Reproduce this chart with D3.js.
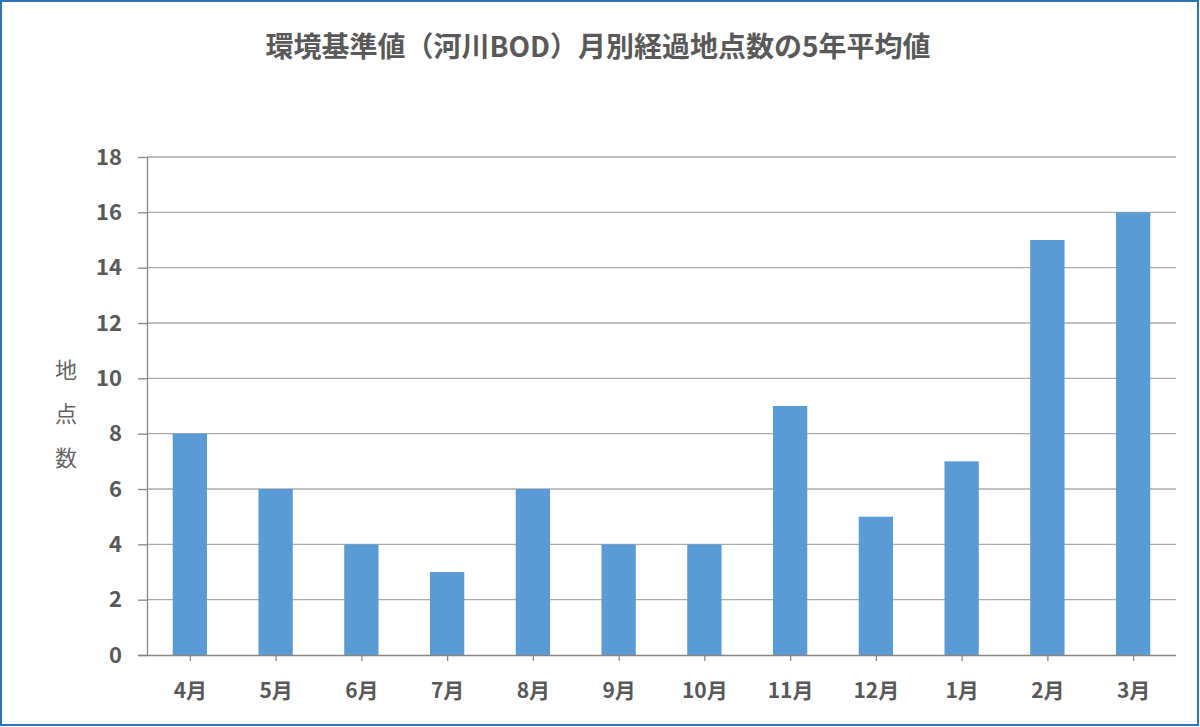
<!DOCTYPE html>
<html><head><meta charset="utf-8">
<script src="https://cdn.jsdelivr.net/npm/d3@7"></script>
<style>body{margin:0;background:#fff;}svg{display:block;}</style>
</head><body>
<svg id="c" width="1200" height="727"></svg>
<script>
const categories = ["4月","5月","6月","7月","8月","9月","10月","11月","12月","1月","2月","3月"];
const values = [8,6,4,3,6,4,4,9,5,7,15,16];
const yTicks = [0,2,4,6,8,10,12,14,16,18];
const title = "環境基準値（河川BOD）月別経過地点数の5年平均値";
const yLabel = ["地","点","数"];

const svg = d3.select("#c");
const W = 1200, H = 727;
const m = {left:147, right:1176, top:157, bottom:655};
const font = "'Noto Sans CJK JP','Noto Sans',sans-serif";

svg.append("rect").attr("x",1).attr("y",1).attr("width",W-3).attr("height",H-3)
  .attr("fill","#fff").attr("stroke","#2E75B6").attr("stroke-width",2);

const x = d3.scaleBand().domain(categories).range([m.left,m.right]).paddingInner(0.6).paddingOuter(0.3);
const y = d3.scaleLinear().domain([0,18]).range([m.bottom,m.top]);

// gridlines
svg.append("g").selectAll("line").data(yTicks.filter(d=>d>0)).join("line")
  .attr("x1",m.left).attr("x2",m.right).attr("y1",d=>y(d)).attr("y2",d=>y(d))
  .attr("stroke","#ABABAB").attr("stroke-width",1.3);

// bars
svg.append("g").selectAll("rect").data(values).join("rect")
  .attr("x",(d,i)=>x(categories[i])).attr("width",x.bandwidth())
  .attr("y",d=>y(d)).attr("height",d=>y(0)-y(d)).attr("fill","#5B9BD5");

// y axis
const ya = svg.append("g").attr("transform",`translate(${m.left},0)`)
  .call(d3.axisLeft(y).tickValues(yTicks).tickSize(9).tickPadding(16));
ya.select(".domain").attr("stroke","#868686").attr("stroke-width",1.3)
  .attr("d",`M0.5,${m.bottom}V${m.top}`);
ya.selectAll(".tick line").attr("stroke","#868686").attr("stroke-width",1.3);
ya.selectAll(".tick text").attr("font-family",font).attr("font-weight","bold")
  .attr("font-size",22).attr("fill","#595959");

// x axis
const xc = d3.scalePoint().domain(categories).range([m.left,m.right]).padding(0.5);
const xa = svg.append("g").attr("transform",`translate(0,${m.bottom})`)
  .call(d3.axisBottom(xc).tickSize(6).tickPadding(22).tickSizeOuter(0));
xa.select(".domain").attr("stroke","#868686").attr("stroke-width",1.3)
  .attr("d",`M${m.left-9},0.5H${m.right}`);
xa.selectAll(".tick line").attr("stroke","#868686").attr("stroke-width",1.3);
xa.selectAll(".tick text").attr("font-family",font).attr("font-weight","bold")
  .attr("font-size",21).attr("fill","#595959");

// y label
svg.append("g").selectAll("text").data(yLabel).join("text")
  .attr("x",66).attr("y",(d,i)=>378+i*44).attr("text-anchor","middle")
  .attr("font-family",font).attr("font-size",22).attr("fill","#666666").text(d=>d);

// title
svg.append("text").attr("x",598).attr("y",57).attr("text-anchor","middle")
  .attr("font-family",font).attr("font-weight","bold").attr("font-size",28)
  .attr("fill","#595959").text(title);
</script>
</body></html>
